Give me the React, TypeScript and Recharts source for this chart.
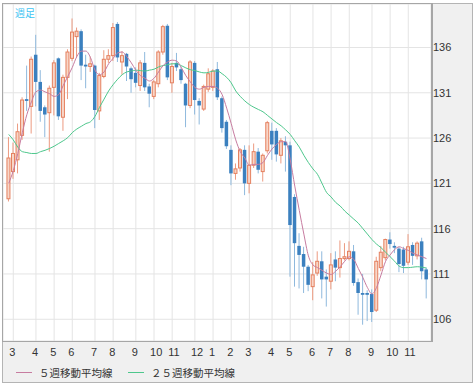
import React from "react";
import {
  Bar,
  CartesianGrid,
  ComposedChart,
  Line,
  XAxis,
  YAxis,
} from "recharts";

// weekly candles (週足)
const opens = [
  119.3, 122.3, 123.6, 126.3, 130.3, 129.5, 135.2, 132.2, 129.4, 128.8,
  131.6, 134.8, 128.3, 132.7, 134.8, 137.2, 137.8, 134.1, 133.9, 134.0,
  129.0, 132.8, 134.7, 135.1, 138.6, 134.4, 135.3, 133.7, 133.2, 131.8,
  134.3, 131.7, 130.6, 132.0, 135.5, 138.4, 132.1, 134.3, 133.6, 132.0,
  129.6, 134.3, 130.1, 129.2, 131.4, 131.6, 133.6, 130.4, 127.8, 124.7,
  122.1, 122.7, 124.7, 121.0, 123.0, 124.5, 122.3, 124.6, 126.8, 126.8,
  124.1, 125.6, 125.2, 119.5, 114.1, 113.2, 111.8, 109.6, 111.1, 112.4,
  110.7, 110.2, 112.6, 111.7, 112.7, 112.7, 113.5, 110.1, 108.9, 108.9,
  108.8, 107.0, 111.7, 112.8, 114.8, 114.1, 113.8, 113.7, 112.3, 114.2,
  113.0, 114.6, 111.5,
];
const highs = [
  126.1, 125.5, 127.6, 130.5, 134.0, 135.0, 137.4, 133.5, 129.6, 131.8,
  134.6, 134.9, 133.0, 135.8, 139.2, 138.2, 138.0, 135.2, 135.0, 134.1,
  133.2, 135.7, 135.8, 138.7, 138.8, 135.6, 135.4, 133.9, 133.8, 134.6,
  135.5, 132.0, 132.4, 135.7, 138.5, 138.6, 134.3, 135.4, 133.9, 132.1,
  134.6, 134.5, 130.4, 131.9, 133.7, 133.6, 134.4, 130.6, 128.0, 125.2,
  123.2, 124.9, 125.2, 125.2, 125.4, 124.9, 124.3, 127.9, 127.7, 127.1,
  126.0, 126.2, 125.6, 119.8, 115.5, 114.0, 112.0, 112.3, 113.5, 113.5,
  111.5, 113.3, 113.5, 114.7, 114.4, 114.6, 114.2, 110.5, 111.0, 109.2,
  109.3, 112.9, 114.1, 114.9, 115.6, 114.5, 114.0, 114.0, 115.4, 114.5,
  114.6, 115.0, 111.7,
];
const lows = [
  119.0, 121.5, 122.1, 125.8, 129.0, 126.5, 129.5, 127.8, 126.1, 124.5,
  128.5, 128.0, 126.8, 130.3, 134.5, 134.9, 132.4, 131.5, 133.3, 127.1,
  128.0, 132.6, 134.3, 134.5, 134.4, 133.0, 132.3, 131.0, 131.6, 131.2,
  131.2, 129.4, 130.3, 131.6, 135.2, 132.4, 131.0, 133.4, 132.0, 127.2,
  129.3, 128.6, 127.5, 129.0, 131.1, 131.2, 130.2, 126.6, 124.8, 120.8,
  121.4, 122.3, 119.7, 119.9, 122.7, 122.1, 121.2, 124.3, 123.6, 123.4,
  123.2, 122.3, 110.7, 109.6, 109.4, 108.9, 109.1, 108.1, 110.8, 108.3,
  107.4, 109.3, 110.2, 110.6, 112.5, 112.5, 109.7, 106.5, 105.4, 105.8,
  105.7, 106.8, 111.3, 112.5, 113.8, 113.3, 111.2, 111.1, 112.0, 112.0,
  112.6, 110.4, 108.3,
];
const closes = [
  123.8, 124.3, 126.7, 130.2, 130.1, 134.7, 132.2, 129.0, 128.6, 131.5,
  134.3, 128.4, 132.7, 135.5, 137.7, 137.8, 134.0, 133.9, 134.2, 129.1,
  132.9, 134.7, 135.1, 138.2, 134.9, 135.1, 133.9, 132.5, 132.1, 134.3,
  131.6, 130.9, 132.2, 135.5, 138.3, 132.7, 133.9, 133.8, 132.4, 129.6,
  134.4, 130.2, 129.6, 131.7, 133.1, 133.4, 130.5, 127.1, 125.1, 122.1,
  122.6, 124.7, 121.0, 123.0, 124.5, 122.5, 124.1, 127.7, 125.3, 124.2,
  125.7, 125.2, 116.4, 114.4, 113.1, 111.8, 109.8, 110.9, 112.4, 110.4,
  110.4, 112.0, 111.7, 112.7, 112.9, 113.5, 110.0, 108.9, 108.7, 108.7,
  106.8, 112.4, 113.4, 114.8, 114.3, 113.9, 112.1, 111.9, 114.0, 113.0,
  114.4, 111.3, 110.4,
];

// ５週移動平均線
const ma5 = [
  121.0, 122.4, 124.3, 126.6, 128.6, 130.0, 131.1, 131.3, 131.1, 130.9,
  130.6, 130.8, 131.8, 132.8, 133.8, 135.0, 135.6, 135.6, 134.9, 133.5,
  133.0, 133.3, 134.2, 134.8, 135.4, 135.5, 135.0, 134.3, 133.5, 132.9,
  132.6, 132.3, 132.6, 133.3, 134.0, 134.4, 134.6, 134.5, 133.8, 132.9,
  132.2, 131.6, 131.4, 131.6, 131.7, 131.7, 131.5, 130.8, 129.3, 127.6,
  125.8, 124.5, 123.8, 123.0, 123.1, 123.1, 123.3, 124.1, 124.8, 125.3,
  125.6, 125.6, 123.6, 120.7, 118.0, 115.4, 113.0, 112.0, 111.7, 111.4,
  111.1, 110.95, 111.3, 111.8, 112.4, 112.9, 112.6, 111.6, 110.6, 109.5,
  108.8, 109.5, 110.9, 112.4, 113.1, 113.7, 114.0, 113.8, 113.6, 113.3,
  113.1, 112.9, 112.7,
];

// ２５週移動平均線
const ma25 = [
  126.4, 125.8, 125.0, 124.5, 124.4, 124.3, 124.3, 124.5, 124.65, 124.85,
  125.1, 125.4, 125.7, 126.05, 126.6, 127.0, 127.3, 127.6, 127.8, 128.4,
  129.4, 130.3, 131.2, 131.9, 132.5, 133.0, 133.3, 133.4, 133.5, 133.45,
  133.4, 133.5, 133.6, 133.85, 134.0, 134.1, 134.2, 134.2, 134.0, 133.75,
  133.55, 133.45, 133.3, 133.2, 133.25, 133.4, 133.4, 133.1, 132.7, 132.1,
  131.2, 130.6, 130.1, 129.7, 129.4, 129.15, 128.9, 128.5, 128.1, 127.7,
  127.35, 126.9, 126.4, 125.7, 125.0, 124.1, 123.3, 122.6, 122.0, 121.0,
  120.0, 119.5, 118.9, 118.5, 117.95, 117.5, 117.05, 116.6, 116.0, 115.4,
  114.8, 114.3, 113.9, 113.4, 112.9, 112.4, 111.85, 111.7, 111.7, 111.75,
  111.8, 111.75, 111.65,
];

// first week of each month (index into the weekly arrays) and its label
const monthWeeks = [1, 6, 10, 14, 19, 23, 28, 32, 36, 41, 45, 49, 53, 58, 62, 67, 71, 75, 80, 84, 88];
const monthLabels = ["3", "4", "5", "6", "7", "8", "9", "10", "11", "12", "1", "2", "3", "4", "5", "6", "7", "8", "9", "10", "11"];

const priceTicks = [106, 111, 116, 121, 126, 131, 136];

const UP_LINE = "#e5805f";
const UP_FILL = "#f8d6c8";
const UP_WICK = "#ec9a80";
const DOWN_FILL = "#3b80bf";
const DOWN_WICK = "#8fb9dd";
const MA5_COLOR = "#c77ca0";
const MA25_COLOR = "#4dc78c";
const AXIS_FONT = "'Liberation Sans', Arial, sans-serif";
const JP_FONT = "'Noto Sans CJK JP', sans-serif";

const data = opens.map((o, i) => ({
  i,
  o,
  h: highs[i],
  l: lows[i],
  c: closes[i],
  range: [lows[i], highs[i]],
  ma5: ma5[i],
  ma25: ma25[i],
}));

const Candle = (props: any) => {
  const { x, y, width, height, payload } = props;
  const { o, h, l, c } = payload;
  const ppu = (h - l) === 0 ? 0 : height / (h - l);
  const cx = x + width / 2;
  const top = y + (h - Math.max(o, c)) * ppu;
  const bot = y + (h - Math.min(o, c)) * ppu;
  const up = c >= o;
  const bh = Math.max(bot - top, 1);
  return (
    <g>
      <line x1={cx} x2={cx} y1={y} y2={y + height} stroke={up ? UP_WICK : DOWN_WICK} strokeWidth={1} />
      {up ? (
        <rect x={cx - 1.5} y={top} width={3} height={bh} fill={UP_FILL} stroke={UP_LINE} strokeWidth={1} />
      ) : (
        <rect x={cx - 1.75} y={top} width={3.5} height={bh} fill={DOWN_FILL} />
      )}
    </g>
  );
};

const MonthTick = (props: any) => {
  const { x, y, payload } = props;
  const k = monthWeeks.indexOf(payload.value);
  return (
    <text x={x - 4} y={y + 15} textAnchor="start" fontSize={11} fontFamily={AXIS_FONT} fill="#333">
      {k >= 0 ? monthLabels[k] : ""}
    </text>
  );
};

const PriceTick = (props: any) => {
  const { x, y, payload } = props;
  return (
    <text x={x + 2} y={y + 4} textAnchor="start" fontSize={11} fontFamily={AXIS_FONT} fill="#333">
      {payload.value}
    </text>
  );
};

const LegendItem = ({ color, label, left }: { color: string; label: string; left: number }) => (
  <div style={{ position: "absolute", left, top: 363, height: 18, display: "flex", alignItems: "center" }}>
    <div style={{ width: 16, height: 1, background: color, marginRight: 7 }} />
    <span style={{ fontSize: 10.5, fontFamily: JP_FONT, color: "#333", whiteSpace: "nowrap" }}>{label}</span>
  </div>
);

export default function App() {
  return (
    <div style={{ position: "absolute", left: 0, top: 0, width: 475, height: 386, background: "#fff" }}>
      <div
        style={{
          position: "absolute",
          left: 2,
          top: 3,
          width: 469,
          height: 378,
          border: "1px solid #b4b4b4",
          background: "#f0f0f0",
        }}
      />
      <div style={{ position: "absolute", left: 0, top: 0 }}>
        <ComposedChart
          width={475}
          height={386}
          data={data}
          margin={{ top: 4, right: 3, bottom: 25, left: 3 }}
        >
          <CartesianGrid fill="#fff" stroke="#e4e4e4" strokeWidth={1} />
          <XAxis
            type="number"
            dataKey="i"
            domain={[-1.26, 93.0]}
            ticks={monthWeeks}
            interval={0}
            allowDataOverflow
            axisLine={false}
            tickLine={false}
            tickSize={0}
            tickMargin={0}
            height={20}
            tick={<MonthTick />}
          />
          <YAxis
            orientation="right"
            domain={[103.6, 140.8]}
            ticks={priceTicks}
            interval={0}
            allowDataOverflow
            axisLine={false}
            tickLine={false}
            tickSize={0}
            tickMargin={0}
            width={41}
            tick={<PriceTick />}
          />
          <Bar dataKey="range" barSize={4} shape={<Candle />} isAnimationActive={false} />
          <Line type="monotone" dataKey="ma25" stroke={MA25_COLOR} strokeWidth={1} dot={false} isAnimationActive={false} />
          <Line type="monotone" dataKey="ma5" stroke={MA5_COLOR} strokeWidth={1} dot={false} isAnimationActive={false} />
        </ComposedChart>
      </div>
      <div
        style={{
          position: "absolute",
          left: 2,
          top: 3,
          width: 428,
          height: 337,
          border: "1px solid #a6a6a6",
          borderRightWidth: 2,
          pointerEvents: "none",
        }}
      />
      <div
        style={{
          position: "absolute",
          left: 15,
          top: 5,
          fontSize: 10,
          fontFamily: JP_FONT,
          color: "#3ec4f2",
        }}
      >
        週足
      </div>
      <LegendItem color={MA5_COLOR} label="５週移動平均線" left={16} />
      <LegendItem color={MA25_COLOR} label="２５週移動平均線" left={128} />
    </div>
  );
}
